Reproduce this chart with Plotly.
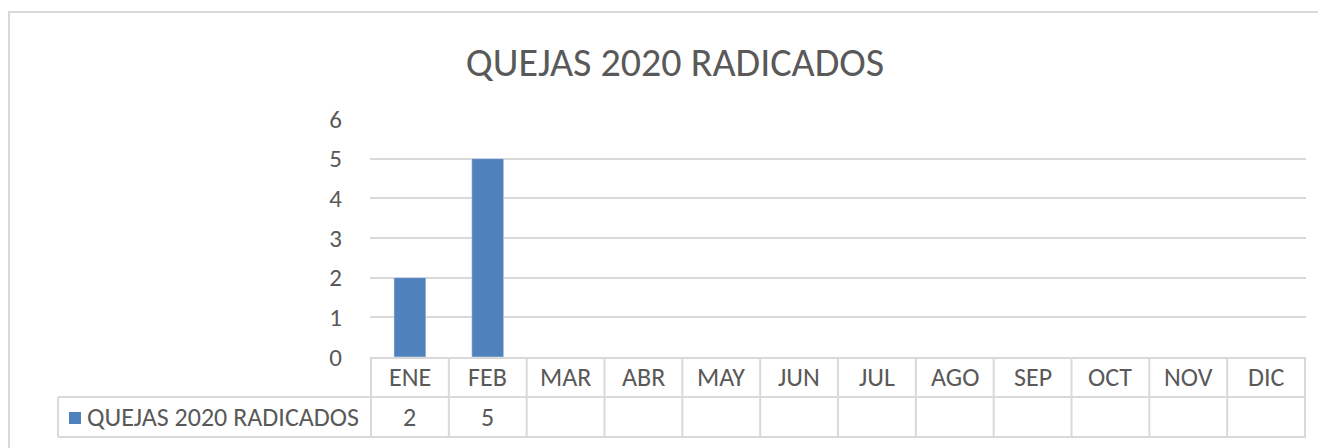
import plotly.graph_objects as go

# Data
months = ["ENE", "FEB", "MAR", "ABR", "MAY", "JUN", "JUL", "AGO", "SEP", "OCT", "NOV", "DIC"]
quejas = [2, 5, None, None, None, None, None, None, None, None, None, None]
series_name = "QUEJAS 2020 RADICADOS"
chart_title = "QUEJAS 2020 RADICADOS"

FONT = "Carlito, Calibri, Lato, sans-serif"
TXT = "#595959"
GRID = "#d9d9d9"
BAR = "#4f81bd"

# the page body has an 8px margin, so shift target pixel positions by it
OFF = 8
W, H = 1326, 448
L, T = 370 - OFF, 119 - OFF
pw, ph = 936, 238
R, B = W - L - pw, H - T - ph


def px_x(p):
    # screen pixel x -> paper x
    return (p - OFF - L) / pw


def px_y(p):
    # screen pixel y -> paper y
    return (T + ph - (p - OFF)) / ph


fig = go.Figure()
fig.add_trace(go.Bar(
    x=months,
    y=quejas,
    name=series_name,
    marker=dict(color=BAR),
    showlegend=False,
))

shapes = []
annotations = []

# outer chart border (left edge sits as close to the page edge as the body margin allows)
shapes.append(dict(type="rect", xref="paper", yref="paper",
                   x0=px_x(9), x1=px_x(1360), y0=px_y(12), y1=px_y(480),
                   line=dict(color=GRID, width=2), layer="below"))

# data table horizontal lines
row_top, row_mid, row_bot = 357, 397, 437
for yy in (row_mid, row_bot):
    shapes.append(dict(type="line", xref="paper", yref="paper",
                       x0=px_x(58), x1=1, y0=px_y(yy), y1=px_y(yy),
                       line=dict(color=GRID, width=2)))
shapes.append(dict(type="line", xref="paper", yref="paper",
                   x0=px_x(58), x1=px_x(58), y0=px_y(row_mid), y1=px_y(row_bot),
                   line=dict(color=GRID, width=2)))

# vertical cell boundaries between categories
for k in range(len(months) + 1):
    shapes.append(dict(type="line", xref="x", yref="paper",
                       x0=k - 0.5, x1=k - 0.5, y0=px_y(row_top), y1=px_y(row_bot),
                       line=dict(color=GRID, width=2)))

# header row labels and value cells
for m, v in zip(months, quejas):
    annotations.append(dict(x=m, xref="x", yref="paper", y=px_y((row_top + row_mid) / 2),
                            text=m, showarrow=False, yanchor="middle",
                            font=dict(family=FONT, size=26, color=TXT)))
    if v is not None:
        annotations.append(dict(x=m, xref="x", yref="paper", y=px_y((row_mid + row_bot) / 2),
                                text=str(v), showarrow=False, yanchor="middle",
                                font=dict(family=FONT, size=26, color=TXT)))

# legend key in table
shapes.append(dict(type="rect", xref="paper", yref="paper",
                   x0=px_x(69), x1=px_x(81), y0=px_y(424), y1=px_y(412),
                   fillcolor=BAR, line=dict(width=0)))
annotations.append(dict(x=px_x(85), xref="paper", yref="paper", y=px_y((row_mid + row_bot) / 2),
                        text=series_name, showarrow=False, xanchor="left", yanchor="middle",
                        font=dict(family=FONT, size=26, color=TXT)))

fig.update_layout(
    width=W,
    height=H,
    margin=dict(l=L, r=R, t=T, b=B),
    paper_bgcolor="white",
    plot_bgcolor="white",
    bargap=0.59,
    title=dict(text=chart_title, x=(675 - OFF) / W, xanchor="center",
               y=1 - (62 - OFF) / H, yanchor="middle",
               font=dict(family=FONT, size=40, color=TXT)),
    xaxis=dict(showticklabels=False, showgrid=False, zeroline=False, showline=True,
               linecolor=GRID, linewidth=2, ticks=""),
    yaxis=dict(range=[0, 6], dtick=1, showgrid=True, gridcolor=GRID, gridwidth=2,
               zeroline=False, showline=False, ticks="outside", ticklen=22,
               tickcolor="rgba(0,0,0,0)",
               tickfont=dict(family=FONT, size=25, color=TXT)),
    shapes=shapes,
    annotations=annotations,
)

fig.write_html("out.html")
